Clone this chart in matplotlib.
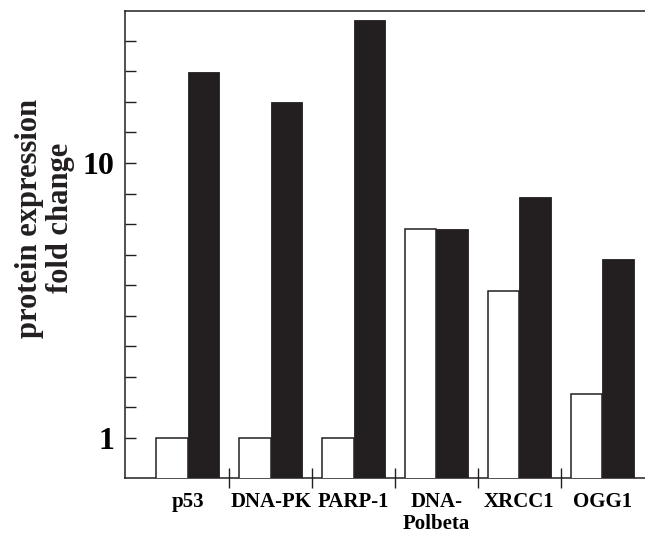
import matplotlib
matplotlib.use("Agg")
import matplotlib.pyplot as plt
import numpy as np

categories = ["p53", "DNA-PK", "PARP-1", "DNA-\nPolbeta", "XRCC1", "OGG1"]
control = [1.0, 1.0, 1.0, 5.75, 3.43, 1.44]
treated = [21.5, 16.7, 33.1, 5.75, 7.54, 4.47]
ytick_labels = {1: "1", 10: "10"}

dark = "#231f20"
fig = plt.figure(figsize=(6.45, 5.33), dpi=100)
ax = fig.add_axes([125/645, (533-477.7)/533, 520/645, (477.7-10.7)/533])

x = np.arange(len(categories))
w = 0.38
ax.bar(x - w/2, control, width=w, color="white", edgecolor=dark, linewidth=1.1, zorder=3)
ax.bar(x + w/2, treated, width=w, color=dark, edgecolor=dark, linewidth=0.6, zorder=3)

ax.set_yscale("log")
ax.set_ylim(10**(-39.7/275), 10**(427.3/275))
ax.set_xlim(-0.76, 5.517)

# y ticks: evenly spaced in log space (9 per decade)
yt = [10**(k/9) for k in range(0, 14)]
ax.yaxis.set_major_locator(matplotlib.ticker.FixedLocator(yt))
ax.yaxis.set_minor_locator(matplotlib.ticker.NullLocator())
ax.set_yticklabels([ytick_labels.get(int(round(v)) if abs(v - round(v)) < 1e-6 else None, "") for v in yt])
ax.tick_params(axis="y", direction="in", length=8, width=1.0, color=dark, pad=8)
for lab in ax.get_yticklabels():
    lab.set_fontfamily("Liberation Serif")
    lab.set_fontweight("bold")
    lab.set_fontsize(23)

# x: labels at centers, separator ticks between groups
ax.set_xticks(x)
ax.set_xticklabels(categories, fontfamily="Liberation Serif", fontweight="bold", fontsize=15, linespacing=1.15, va="top")
ax.tick_params(axis="x", which="major", length=0, pad=10)
ax.set_xticks(x[:-1] + 0.5, minor=True)
ax.tick_params(axis="x", which="minor", direction="inout", length=15, width=1.0, color=dark)

for s in ["left", "bottom", "top"]:
    ax.spines[s].set_color(dark)
    ax.spines[s].set_linewidth(1.1)
ax.spines["right"].set_visible(False)

fig.text(45/645, 1 - 218/533, "protein expression\nfold change", rotation=90,
         ha="center", va="center", fontfamily="Liberation Serif", fontweight="bold",
         fontsize=22, linespacing=1.1, color=dark)

fig.savefig("out.png", dpi=100)
